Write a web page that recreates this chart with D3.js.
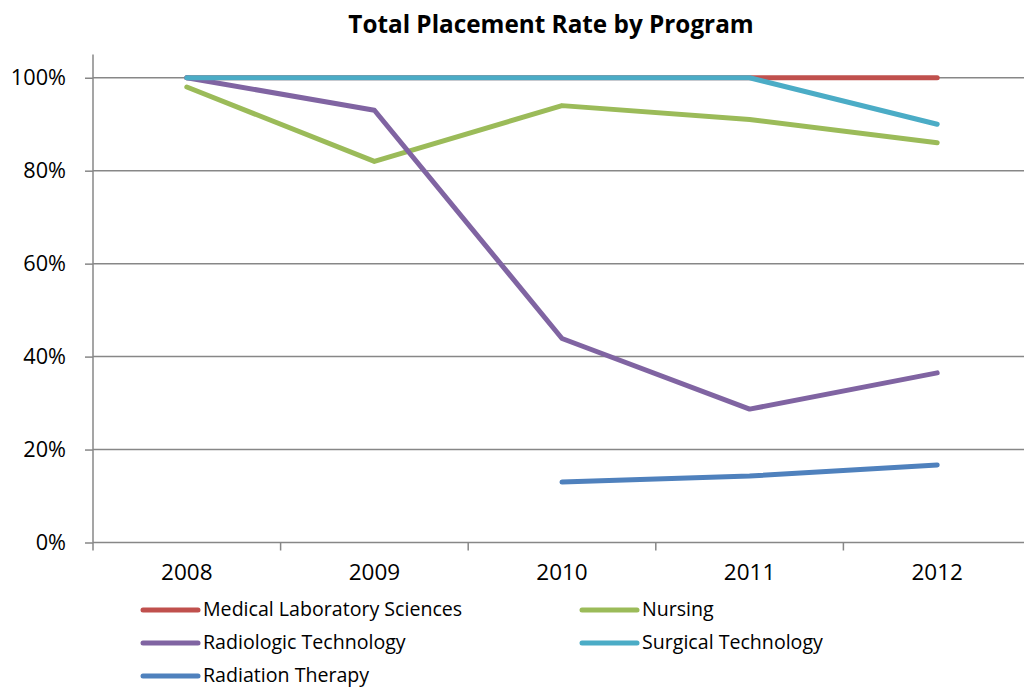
<!DOCTYPE html>
<html>
<head>
<meta charset="utf-8">
<script src="https://cdn.jsdelivr.net/npm/d3@7"></script>
<style>
  body { margin: 0; background: #fff; }
  text { font-family: "Open Sans", sans-serif; fill: #000; }
</style>
</head>
<body>
<svg id="chart" width="1024" height="688"></svg>
<script>
// chart data
const years = ["2008", "2009", "2010", "2011", "2012"];
const seriesNames = ["Medical Laboratory Sciences", "Nursing", "Radiologic Technology", "Surgical Technology", "Radiation Therapy"];
const medLab = [1.00, 1.00, 1.00, 1.00, 1.00];
const nursing = [0.98, 0.82, 0.94, 0.91, 0.86];
const radiologic = [1.00, 0.93, 0.439, 0.287, 0.365];
const surgical = [1.00, 1.00, 1.00, 1.00, 0.90];
const radiation = [null, null, 0.13, 0.143, 0.167];
const yTicks = [0, 0.2, 0.4, 0.6, 0.8, 1.0];
const colors = ["#C0504D", "#9BBB59", "#8064A2", "#4BACC6", "#4F81BD"];

const allSeries = [medLab, nursing, radiologic, surgical, radiation];

let svg = d3.select("#chart");
let plotLeft = 93, plotRight = 1031, plotTop = 54.5, plotBottom = 542.5;

let x = d3.scaleBand().domain(years).range([plotLeft, plotRight]);
let y = d3.scaleLinear().domain([0, 1.05]).range([plotBottom, plotTop]);

// title
svg.append("text")
    .attr("x", 551)
    .attr("y", 33)
    .attr("text-anchor", "middle")
    .attr("font-size", "24.3px")
    .attr("font-weight", "bold")
    .text("Total Placement Rate by Program");

// horizontal gridlines
svg.append("g").selectAll("line")
    .data(yTicks.slice(1))
    .enter().append("line")
    .attr("x1", plotLeft).attr("x2", plotRight)
    .attr("y1", function (d) { return y(d); })
    .attr("y2", function (d) { return y(d); })
    .attr("stroke", "#878787")
    .attr("stroke-width", 1.5);

// y axis
let yAxis = svg.append("g")
    .attr("transform", "translate(" + plotLeft + ",0)")
    .call(d3.axisLeft(y).tickValues(yTicks).tickSize(8).tickFormat(d3.format(".0%")));
yAxis.select(".domain").attr("stroke", "#878787").attr("stroke-width", 1.5).attr("d", "M0," + plotTop + "V" + plotBottom);
yAxis.selectAll(".tick line").attr("stroke", "#878787").attr("stroke-width", 1.5);
yAxis.selectAll(".tick text").attr("x", -27).attr("font-size", "21.7px").attr("fill", "#000");

// x axis
let xAxis = svg.append("g")
    .attr("transform", "translate(0," + plotBottom + ")")
    .call(d3.axisBottom(x).tickSize(0));
xAxis.select(".domain").attr("stroke", "#878787").attr("stroke-width", 1.5).attr("d", "M" + plotLeft + ",0H" + plotRight);
xAxis.selectAll(".tick text").attr("y", 22).attr("font-size", "22.5px").attr("fill", "#000");

// x tick marks at band edges
svg.append("g").selectAll("line")
    .data(years)
    .enter().append("line")
    .attr("x1", function (d) { return x(d); })
    .attr("x2", function (d) { return x(d); })
    .attr("y1", plotBottom)
    .attr("y2", plotBottom + 8)
    .attr("stroke", "#878787")
    .attr("stroke-width", 1.5);

// series lines
let line = d3.line()
    .defined(function (d) { return d != null; })
    .x(function (d, i) { return x(years[i]) + x.bandwidth() / 2; })
    .y(function (d) { return y(d); });

svg.append("g").selectAll("path")
    .data(allSeries)
    .enter().append("path")
    .attr("d", line)
    .attr("fill", "none")
    .attr("stroke", function (d, i) { return colors[i]; })
    .attr("stroke-width", 5)
    .attr("stroke-linecap", "round")
    .attr("stroke-linejoin", "round");

// legend (two columns, filled row by row)
let legend = svg.append("g");
seriesNames.forEach(function (name, i) {
    let col = i % 2, row = Math.floor(i / 2);
    let lx = col === 0 ? 143 : 582;
    let ly = 610 + row * 33;
    legend.append("line")
        .attr("x1", lx).attr("x2", lx + 55)
        .attr("y1", ly).attr("y2", ly)
        .attr("stroke", colors[i])
        .attr("stroke-width", 5)
        .attr("stroke-linecap", "round");
    legend.append("text")
        .attr("x", lx + 60)
        .attr("y", ly)
        .attr("dy", "0.33em")
        .attr("font-size", "19.6px")
        .text(name);
});
</script>
</body>
</html>
